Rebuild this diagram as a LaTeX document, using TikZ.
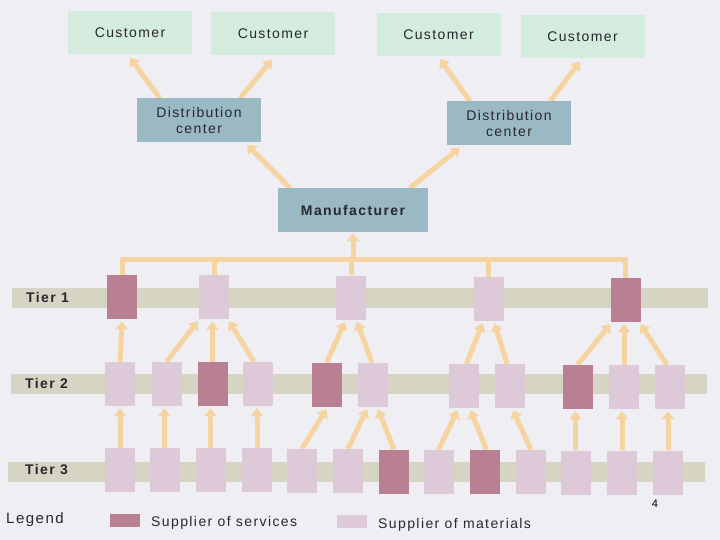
\documentclass[tikz,border=0pt]{standalone}
\usepackage{fontspec}
\setmainfont{Liberation Sans}[LetterSpace=10]
\usetikzlibrary{arrows.meta}
\definecolor{bgc}{RGB}{239,238,242}
\definecolor{custc}{RGB}{212,236,222}
\definecolor{distc}{RGB}{155,185,197}
\definecolor{svcc}{RGB}{185,127,146}
\definecolor{matc}{RGB}{221,201,216}
\definecolor{bandc}{RGB}{214,212,194}
\definecolor{flowc}{RGB}{245,212,162}
\definecolor{txt}{RGB}{40,40,45}
\pgfdeclarelayer{back}
\pgfdeclarelayer{bgl}
\pgfsetlayers{back,bgl,main}
\begin{document}
\begin{tikzpicture}[x=1pt,y=-1pt,
  font=\fontsize{14}{16}\selectfont, text=txt,
  cust/.style={fill=custc, minimum width=124pt, minimum height=43pt, inner sep=0pt},
  dist/.style={fill=distc, minimum width=124pt, minimum height=44pt, inner sep=0pt, align=center},
  svc/.style={fill=svcc, minimum width=30pt, minimum height=44pt, inner sep=0pt},
  mat/.style={fill=matc, minimum width=30pt, minimum height=44pt, inner sep=0pt},
  flow/.style={draw=flowc, line width=5pt, -{Triangle[width=12pt,length=8pt]}},
  bus/.style={draw=flowc, line width=5pt},
  band/.style={fill=bandc},
  lbl/.style={anchor=west, inner sep=0pt},
  tier/.style={anchor=west, inner sep=0pt, font=\fontsize{14}{16}\selectfont\bfseries}]
\begin{pgfonlayer}{back}
\fill[bgc] (0,0) rectangle (720,540);
\end{pgfonlayer}
\useasboundingbox (0,0) rectangle (720,540);

% customers
\node[cust] (C1) at (130,33) {Customer};
\node[cust] (C2) at (273,34) {Customer};
\node[cust] (C3) at (438.5,34.5) {Customer};
\node[cust] (C4) at (582.5,37) {Customer};
% distribution centers
\node[dist] (D1) at (199,120.5) {Distribution\\center};
\node[dist] (D2) at (509,123.5) {Distribution\\center};
% manufacturer
\node[dist, minimum width=150pt, font=\fontsize{14}{16}\selectfont\bfseries] (M) at (353,210) {Manufacturer};

% tier 1
\node[svc] (T1a) at (122,297) {};
\node[mat] (T1b) at (214,297) {};
\node[mat] (T1c) at (351,297.5) {};
\node[mat] (T1d) at (488.5,299) {};
\node[svc] (T1e) at (625.5,300) {};
% tier 2
\node[mat] (T2a) at (120,384) {};
\node[mat] (T2b) at (166.5,384) {};
\node[svc] (T2c) at (212.5,384) {};
\node[mat] (T2d) at (258,384) {};
\node[svc] (T2e) at (326.5,385) {};
\node[mat] (T2f) at (373,385) {};
\node[mat] (T2g) at (463.5,386) {};
\node[mat] (T2h) at (510,386) {};
\node[svc] (T2i) at (577.5,387) {};
\node[mat] (T2j) at (624,387) {};
\node[mat] (T2k) at (670,387) {};
% tier 3
\node[mat] (T3a) at (120,470) {};
\node[mat] (T3b) at (164.5,470) {};
\node[mat] (T3c) at (210.5,470) {};
\node[mat] (T3d) at (257,470) {};
\node[mat] (T3e) at (302,470.5) {};
\node[mat] (T3f) at (348,471) {};
\node[svc] (T3g) at (394,471.5) {};
\node[mat] (T3h) at (438.5,472) {};
\node[svc] (T3i) at (484.5,472) {};
\node[mat] (T3j) at (531,472) {};
\node[mat] (T3k) at (575.5,472.5) {};
\node[mat] (T3l) at (622,472.5) {};
\node[mat] (T3m) at (668,472.5) {};

% tier labels
\node[tier] (L1) at (26,297) {Tier 1};
\node[tier] (L2) at (25,383) {Tier 2};
\node[tier] (L3) at (25,470) {Tier 3};

% legend
\node[lbl, font=\fontsize{15}{17}\selectfont] (leg) at (6,520) {Legend};
\node[svc, minimum height=13pt] (ls) at (125,520.5) {};
\node[lbl] (lst) at (151,523) {Supplier of services};
\node[mat, minimum height=13pt] (lm) at (352,521) {};
\node[lbl] (lmt) at (378,525) {Supplier of materials};
\node[inner sep=0pt, font=\fontsize{11}{12}\selectfont, text=black] (pg) at (655,504) {4};

\begin{pgfonlayer}{bgl}
% bands
\fill[band] (12,288) rectangle (708,308);
\fill[band] (11,374) rectangle (707,394);
\fill[band] (8,462) rectangle (705,482);

% distribution -> customers
\draw[flow] ([xshift=-39pt]D1.north) -- ([yshift=-3pt]C1.south);
\draw[flow] ([xshift=41pt]D1.north) -- ([xshift=-1pt,yshift=-4pt]C2.south);
\draw[flow] ([xshift=-39pt]D2.north) -- ([xshift=1.5pt,yshift=-3pt]C3.south);
\draw[flow] ([xshift=41pt]D2.north) -- ([xshift=-2.5pt,yshift=-3pt]C4.south);
% manufacturer -> distribution
\draw[flow] ([xshift=-63pt]M.north) -- ([xshift=48pt,yshift=-2pt]D1.south);
\draw[flow] ([xshift=57pt]M.north) -- ([xshift=-49pt,yshift=-2pt]D2.south);

% bus from tier 1 to manufacturer
\coordinate (busy) at (0,259);
\draw[bus, line join=round] (T1a.north) -- (T1a.north |- busy) -- (T1e.north |- busy) -- (T1e.north);
\foreach \n in {T1b,T1c,T1d} \draw[bus] (\n.north) -- (\n.north |- busy);
\draw[flow] (M.south |- busy) -- ([yshift=-1pt]M.south);

% tier 2 -> tier 1
\draw[flow] (T2a.north) -- ([yshift=-2pt]T1a.south);
\draw[flow] (T2b.north) -- ([xshift=-16pt,yshift=-2pt]T1b.south);
\draw[flow] (T2c.north) -- ([yshift=-2pt]T1c.south -| T2c.north);
\draw[flow] ([xshift=-4pt]T2d.north) -- ([xshift=15pt,yshift=-2pt]T1b.south);
\draw[flow] (T2e.north) -- ([xshift=-6pt,yshift=-2pt]T1c.south);
\draw[flow] ([xshift=-1pt]T2f.north) -- ([xshift=6pt,yshift=-2pt]T1c.south);
\draw[flow] ([xshift=3pt]T2g.north) -- ([xshift=-6pt,yshift=-2pt]T1d.south);
\draw[flow] ([xshift=-3pt]T2h.north) -- ([xshift=6pt,yshift=-2pt]T1d.south);
\draw[flow] (T2i.north) -- ([xshift=-15pt,yshift=-2pt]T1e.south);
\draw[flow] (T2j.north) -- ([yshift=-2pt]T1e.south -| T2j.north);
\draw[flow] ([xshift=-3pt]T2k.north) -- ([xshift=15pt,yshift=-2pt]T1e.south);

% tier 3 -> tier 2
\foreach \a/\b in {T3a/T2a,T3b/T2b,T3c/T2c,T3d/T2d,T3k/T2i,T3l/T2j,T3m/T2k}
  \draw[flow] (\a.north) -- ([yshift=-2pt]\b.south -| \a.north);
\draw[flow] (T3e.north) -- ([yshift=-2pt]T2e.south);
\draw[flow] (T3f.north) -- ([xshift=-6pt,yshift=-2pt]T2f.south);
\draw[flow] (T3g.north) -- ([xshift=5pt,yshift=-2pt]T2f.south);
\draw[flow] (T3h.north) -- ([xshift=-6pt,yshift=-2pt]T2g.south);
\draw[flow] ([xshift=2pt]T3i.north) -- ([xshift=7pt,yshift=-2pt]T2g.south);
\draw[flow] (T3j.north) -- ([xshift=3pt,yshift=-2pt]T2h.south);
\end{pgfonlayer}
\end{tikzpicture}
\end{document}
